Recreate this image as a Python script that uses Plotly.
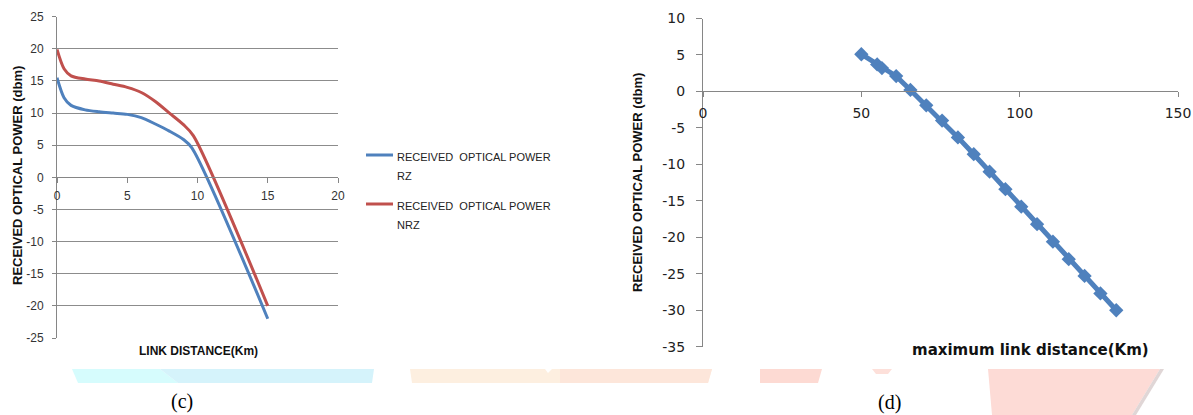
import plotly.graph_objects as go

W, H = 1193, 415

# ---- (c) received optical power vs link distance, RZ and NRZ ----
dist_rz = [0, 0.5, 1, 2, 3, 4, 5, 6, 7, 8, 9, 9.6, 15]
power_rz = [15.5, 12.4, 11.2, 10.5, 10.2, 10.0, 9.8, 9.3, 8.3, 7.2, 5.9, 4.6, -22]
dist_nrz = [0, 0.5, 1, 2, 3, 4, 5, 6, 7, 8, 9, 9.7, 15]
power_nrz = [19.9, 16.9, 15.8, 15.3, 15.0, 14.5, 14.0, 13.2, 11.8, 10.0, 8.2, 6.5, -20]
c_xticks = [0, 5, 10, 15, 20]
c_yticks = [-25, -20, -15, -10, -5, 0, 5, 10, 15, 20, 25]
c_series_names = ["RECEIVED  OPTICAL POWER", "RECEIVED  OPTICAL POWER"]
c_series_suffix = ["RZ", "NRZ"]

# ---- (d) received optical power vs maximum link distance ----
max_dist = [50, 55, 56.5, 61, 65.5, 70.5, 75.5, 80.5, 85.5, 90.5, 95.5,
            100.5, 105.5, 110.5, 115.5, 120.5, 125.5, 130.5]
power_d = [5.1, 3.7, 3.2, 2.1, 0.2, -1.9, -4.0, -6.3, -8.6, -11.0, -13.4,
           -15.8, -18.2, -20.6, -23.0, -25.3, -27.7, -30.0]
d_xticks = [0, 50, 100, 150]
d_yticks = [-35, -30, -25, -20, -15, -10, -5, 0, 5, 10]

BLUE = "#4F81BD"
RED = "#C0504D"
AXIS = "#868686"
GRID = "#8C8C8C"
NARROW = "Liberation Sans Narrow, Liberation Sans, Arial"
VERD = "DejaVu Sans, Verdana"


def fx(p):
    return p / W


def fy(p):
    return 1 - p / H


fig = go.Figure()
fig.add_trace(go.Scatter(
    x=dist_rz, y=power_rz, mode="lines", xaxis="x", yaxis="y",
    line=dict(color=BLUE, width=3, shape="spline", smoothing=0.8),
    showlegend=False, hoverinfo="skip"))
fig.add_trace(go.Scatter(
    x=dist_nrz, y=power_nrz, mode="lines", xaxis="x", yaxis="y",
    line=dict(color=RED, width=3, shape="spline", smoothing=0.8),
    showlegend=False, hoverinfo="skip"))
fig.add_trace(go.Scatter(
    x=max_dist, y=power_d, mode="lines+markers", xaxis="x2", yaxis="y2",
    line=dict(color=BLUE, width=5),
    marker=dict(symbol="diamond", size=11, color=BLUE),
    showlegend=False, hoverinfo="skip"))

tick_c = dict(family="Liberation Sans, Arial", size=12, color="#333333")
tick_d = dict(family=VERD, size=14, color="#222222")

fig.update_layout(
    width=W, height=H,
    margin=dict(l=0, r=0, t=0, b=0, autoexpand=False),
    paper_bgcolor="white", plot_bgcolor="rgba(0,0,0,0)",
    xaxis=dict(
        domain=[fx(57), fx(338)], range=[0, 20], anchor="free",
        position=fy(176.7), showline=True, linecolor=AXIS, linewidth=1,
        ticks="outside", ticklen=5, tickcolor=AXIS, automargin=False,
        tickvals=c_xticks, ticktext=[str(v) for v in c_xticks],
        showgrid=False, zeroline=False, tickfont=tick_c, ticklabelstandoff=3),
    yaxis=dict(
        domain=[fy(338), fy(16.7)], range=[-25, 25], anchor="x",
        showline=True, linecolor=AXIS, linewidth=1, automargin=False,
        ticks="outside", ticklen=4, tickcolor=AXIS,
        tickvals=c_yticks, ticktext=[str(v) for v in c_yticks],
        showgrid=True, gridcolor=GRID, gridwidth=1, zeroline=False,
        tickfont=tick_c, ticklabelstandoff=6),
    xaxis2=dict(
        domain=[fx(703), fx(1178)], range=[0, 150], anchor="free",
        position=fy(91.4), showline=True, linecolor=AXIS, linewidth=1,
        ticks="outside", ticklen=5, tickcolor=AXIS, automargin=False,
        tickvals=d_xticks, ticktext=[str(v) for v in d_xticks],
        showgrid=False, zeroline=False, tickfont=tick_d, ticklabelstandoff=4),
    yaxis2=dict(
        domain=[fy(346.7), fy(18.5)], range=[-35, 10], anchor="x2",
        showline=True, linecolor=AXIS, linewidth=1, automargin=False,
        ticks="outside", ticklen=6, tickcolor=AXIS,
        tickvals=d_yticks, ticktext=[str(v) for v in d_yticks],
        showgrid=False, zeroline=False, tickfont=tick_d, ticklabelstandoff=8),
)

ann = []
# axis titles
ann.append(dict(x=fx(17), y=fy(176), text="<b>RECEIVED OPTICAL POWER (dbm)</b>",
                textangle=-90, font=dict(family=NARROW, size=13, color="#111")))
ann.append(dict(x=fx(198), y=fy(351), text="<b>LINK DISTANCE(Km)</b>",
                font=dict(family=NARROW, size=12, color="#111")))
ann.append(dict(x=fx(637), y=fy(183), text="<b>RECEIVED OPTICAL POWER (dbm)</b>",
                textangle=-90, font=dict(family=NARROW, size=13, color="#111")))
ann.append(dict(x=fx(1030), y=fy(350), text="<b>maximum link distance(Km)</b>",
                font=dict(family=VERD, size=15, color="#111")))

# legend of (c)
shapes = []
for i, (name, suf, col) in enumerate(zip(c_series_names, c_series_suffix, [BLUE, RED])):
    y0 = 155 + 49 * i
    shapes.append(dict(type="line", xref="paper", yref="paper",
                       x0=fx(366), x1=fx(393), y0=fy(y0), y1=fy(y0),
                       line=dict(color=col, width=3)))
    ann.append(dict(x=fx(395), y=fy(y0 + 2), text=name, xanchor="left",
                    font=dict(family=NARROW, size=11, color="#222")))
    ann.append(dict(x=fx(395), y=fy(y0 + 21), text=suf, xanchor="left",
                    font=dict(family=NARROW, size=11, color="#222")))

# panel captions
ann.append(dict(x=fx(182), y=fy(401), text="(c)",
                font=dict(family="Liberation Serif, Times New Roman", size=20, color="#000")))
ann.append(dict(x=fx(889), y=fy(402), text="(d)",
                font=dict(family="Liberation Serif, Times New Roman", size=20, color="#000")))

for a in ann:
    a.setdefault("xref", "paper")
    a.setdefault("yref", "paper")
    a.setdefault("showarrow", False)
    a.setdefault("xanchor", "center")
    a.setdefault("yanchor", "middle")


# faint coloured page bands behind the captions
def poly(pts, color):
    d = "M " + " L ".join(f"{fx(x)},{fy(y)}" for x, y in pts) + " Z"
    return dict(type="path", xref="paper", yref="paper", path=d,
                fillcolor=color, line=dict(width=0), layer="below")


shapes += [
    poly([(72, 369), (160, 369), (178, 383), (78, 383)], "#D6FCFD"),
    poly([(160, 369), (374, 369), (372, 383), (178, 383)], "#D5F3FB"),
    poly([(410, 369), (545, 369), (548, 373), (552, 369), (712, 369), (708, 383), (412, 383)], "#FDEFE0"),
    poly([(560, 369), (712, 369), (708, 383), (560, 383)], "#FDE6DA"),
    poly([(760, 369), (822, 369), (818, 383), (760, 383)], "#FDDAD3"),
    poly([(872, 369), (892, 369), (888, 374), (876, 374)], "#FDE0DA"),
    poly([(988, 369), (1160, 369), (1132, 415), (992, 415)], "#FDDBD6"),
    poly([(1160, 369), (1164, 369), (1136, 415), (1132, 415)], "#E0D6D6"),
]

fig.update_layout(annotations=ann, shapes=shapes)
fig.write_html("out.html")
